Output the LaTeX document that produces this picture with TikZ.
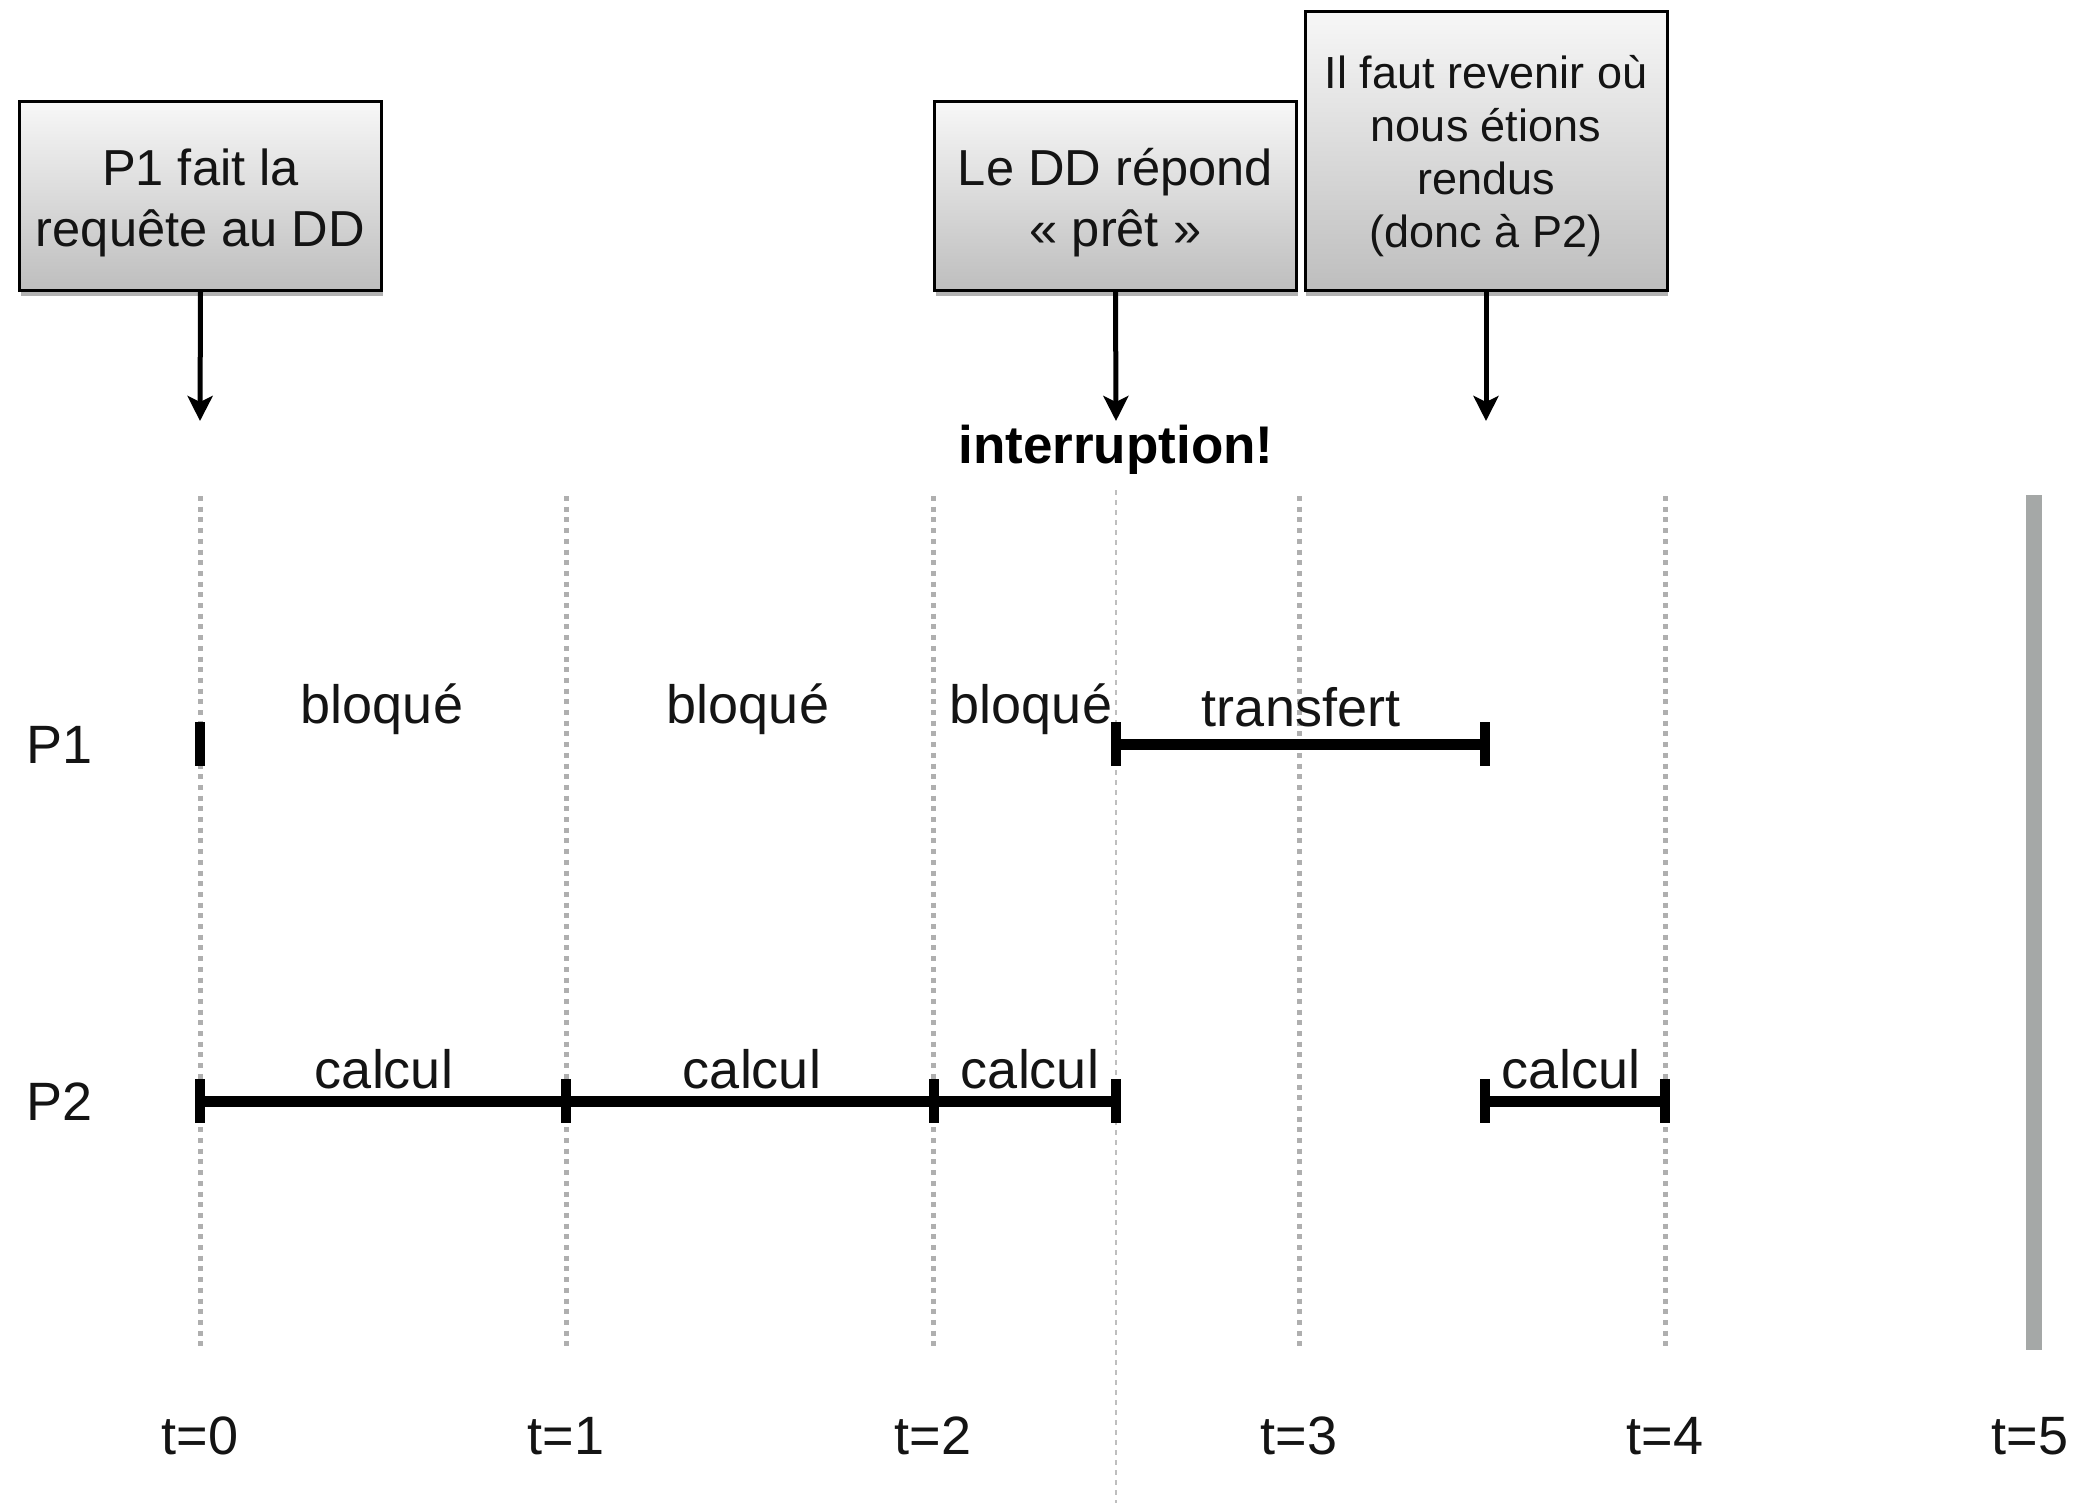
\documentclass[tikz,border=0pt]{standalone}
\usepackage{fontspec}
\setmainfont{Liberation Sans}
\usetikzlibrary{arrows.meta,shadows}
\definecolor{dotgray}{RGB}{175,175,175}
\definecolor{dashgray}{RGB}{190,190,190}
\definecolor{bargray}{RGB}{165,168,167}
\definecolor{boxtop}{RGB}{247,247,247}
\definecolor{boxbot}{RGB}{190,190,190}
\definecolor{txt}{RGB}{20,20,20}
\begin{document}
\begin{tikzpicture}[x=0.5pt,y=-0.5pt,
  box/.style={draw=black, line width=1.5pt, rectangle, top color=boxtop, bottom color=boxbot,
    drop shadow={shadow xshift=0.5pt, shadow yshift=-3pt, opacity=0.3, fill=black},
    inner sep=0pt, minimum width=181pt},
  boxtext/.style={align=center, inner sep=0pt, text=txt},
  gridline/.style={draw=dotgray, line width=2.5pt, dash pattern=on 2.5pt off 2.85pt},
  intline/.style={draw=dashgray, line width=1pt, dash pattern=on 2.5pt off 2.5pt},
  bar/.style={draw=black, line width=5.5pt},
  tickmark/.style={draw=black, line width=5pt},
  arr/.style={draw=black, line width=2.5pt, -{Stealth[length=12.5pt, width=12.5pt, inset=3pt]}},
  lab/.style={font=\fontsize{27}{32}\selectfont, text=txt, inner sep=0pt},
]
\useasboundingbox (0,0) rectangle (2075,1503);

% vertical time lines
\foreach \n/\x in {0/200,1/566,2/933,3/1299,4/1665}{
  \coordinate (g\n top) at (\x,496);
  \coordinate (g\n bot) at (\x,1350);
  \draw[gridline] (g\n top) -- (g\n bot);
}
\coordinate (itop) at (1116,490);
\coordinate (ibot) at (1116,1503);
\draw[intline] (itop) -- (ibot);

% t=5 gray bar
\coordinate (g5top) at (2034,495);
\coordinate (g5bot) at (2034,1350);
\draw[bargray, line width=8pt] (g5top) -- (g5bot);

% time labels
\foreach \n/\x in {0/200,1/566,2/933,3/1299,4/1665,5/2030}{
  \node[lab] (t\n) at (\x,1436) {t=\n};
}

% process labels
\node[lab] (P1) at (60,745) {P1};
\node[lab] (P2) at (60,1102) {P2};

% P1 row
\coordinate (p1s) at (200,744);
\coordinate (p1a) at (1116,744);
\coordinate (p1b) at (1485,744);
\draw[bar] (p1a) -- (p1b);
\foreach \c in {p1s,p1a,p1b}{
  \draw[tickmark] ([yshift=11pt]\c) -- ([yshift=-11pt]\c);
}
\node[lab] (bl1) at (382,709) {bloqué};
\node[lab] (bl2) at (748,709) {bloqué};
\node[lab] (bl3) at (1031,709) {bloqué};
\node[lab] (tr) at (1301,707) {transfert};

% P2 row
\coordinate (p2a) at (200,1101);
\coordinate (p2b) at (566,1101);
\coordinate (p2c) at (934,1101);
\coordinate (p2d) at (1116,1101);
\coordinate (p2e) at (1485,1101);
\coordinate (p2f) at (1665,1101);
\draw[bar] (p2a) -- (p2b) -- (p2c) -- (p2d);
\draw[bar] (p2e) -- (p2f);
\foreach \c in {p2a,p2b,p2c,p2d,p2e,p2f}{
  \draw[tickmark] ([yshift=11pt]\c) -- ([yshift=-11pt]\c);
}
\node[lab] (c1) at (384,1069) {calcul};
\node[lab] (c2) at (752,1069) {calcul};
\node[lab] (c3) at (1030,1069) {calcul};
\node[lab] (c4) at (1571,1069) {calcul};

% boxes
\node[box, minimum height=94pt] (b1) at (200.5,196) {};
\node[box, minimum height=94pt] (b2) at (1115.5,196) {};
\node[box, minimum height=139pt] (b3) at (1486,151) {};
\node[boxtext, font=\fontsize{25.3}{30.5}\selectfont] (b1t) at ([yshift=-3.5pt]b1.center)
  {P1 fait la\\requête au DD};
\node[boxtext, font=\fontsize{25.3}{30.5}\selectfont] (b2t) at ([yshift=-3.5pt]b2.center)
  {Le DD répond\\« prêt »};
\node[boxtext, font=\fontsize{22.5}{26.5}\selectfont] (b3t) at ([yshift=-2.5pt]b3.center)
  {Il faut revenir où\\nous étions\\rendus\\(donc à P2)};

% arrows
\coordinate (a1) at (200,421);
\coordinate (a2) at (1116,421);
\coordinate (a3) at (1486,421);
\draw[arr] (b1.south) -- (a1);
\draw[arr] (b2.south) -- (a2);
\draw[arr] (b3.south) -- (a3);

\node[font=\bfseries\fontsize{26.5}{32}\selectfont, inner sep=0pt] (intr) at (1116,450) {interruption!};
\end{tikzpicture}
\end{document}
